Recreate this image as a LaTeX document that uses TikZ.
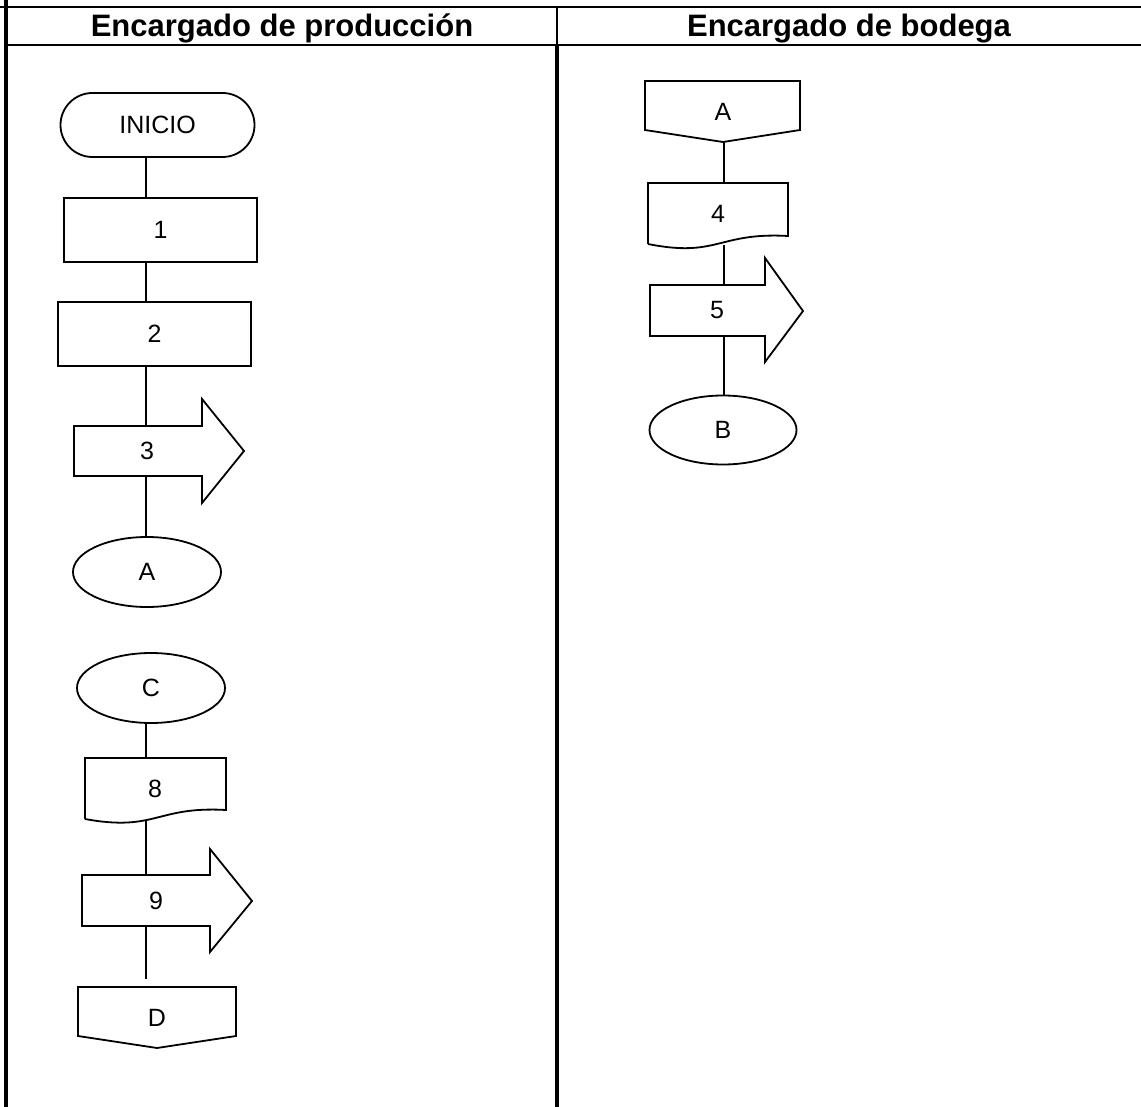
\documentclass[tikz,border=0pt]{standalone}
\usepackage{fontspec}
\setmainfont{Liberation Sans}
\usetikzlibrary{shapes.geometric,shapes.misc}
\tikzset{
  lbl/.style={font=\fontsize{12.5}{15}\selectfont},
  head/.style={font=\bfseries\fontsize{15.5}{18}\selectfont, anchor=base},
  shp/.style={line width=0.9pt},
  proc/.style={shp, draw, lbl, rectangle, minimum width=96.5pt, minimum height=32pt, inner sep=0pt},
  conn/.style={shp, draw, lbl, ellipse, minimum width=74pt, minimum height=35pt, inner sep=0pt},
  txt/.style={lbl, inner sep=0pt},
}
\begin{document}
\begin{tikzpicture}[x=0.5pt,y=-0.5pt]
\useasboundingbox (0,0) rectangle (1141,1107);
% table
\draw[line width=1pt] (0,7) -- (1141,7);
\draw[line width=1pt] (6,45) -- (1141,45);
\draw[line width=2pt] (5.5,0) -- (5.5,1107);
\draw[line width=1pt] (557,7) -- (557,45);
\draw[line width=2pt] (557,45) -- (557,1107);
\node[head] (hprod) at (282,37) {Encargado de producción};
\node[head] (hbod) at (849,37) {Encargado de bodega};
\coordinate (sl) at (146,0);   % left flow line
\coordinate (sr) at (724,0);   % right flow line

% outlines drawn first
\begin{scope}[shp]
\draw (74,426) -- (202,426) -- (202,399) -- (244,451) -- (202,503) -- (202,476) -- (74,476) -- cycle;
\draw (82,875) -- (210,875) -- (210,849) -- (252,901) -- (210,952) -- (210,926) -- (82,926) -- cycle;
\draw (650,285) -- (765,285) -- (765,258) -- (803,311) -- (765,362) -- (765,336) -- (650,336) -- cycle;
\draw (85,819) -- (85,758) -- (226,758) -- (226,810) .. controls (156,806) and (156,832) .. (85,819);
\draw (648,244) -- (648,183) -- (788,183) -- (788,236) .. controls (718,232) and (718,258) .. (648,244);
\draw (645,81) -- (800,81) -- (800,130) -- (723,142) -- (645,130) -- cycle;
\draw (78,987) -- (236,987) -- (236,1036) -- (157,1048) -- (78,1036) -- cycle;
\end{scope}

% left lane
\node[shp, draw, lbl, rounded rectangle, minimum width=97pt, minimum height=32pt, inner sep=0pt] (ini) at (157.5,125) {INICIO};
\node[proc] (p1) at (160.5,230) {1};
\node[proc] (p2) at (154.5,334) {2};
\node[txt, minimum height=25pt] (p3) at (147,451) {3};
\node[conn] (ca) at (147,572) {A};
\node[conn] (cc) at (151,688) {C};
\node[txt, minimum height=31pt] (p8) at (155,789) {8};
\node[txt, minimum height=25.5pt] (p9) at (156,900.5) {9};
\node[txt, minimum height=30.5pt] (cd) at (157,1017.5) {D};

% right lane
\node[txt, minimum height=30.5pt] (ra) at (723,111.5) {A};
\node[txt, minimum height=31pt] (p4) at (718,214) {4};
\node[txt, minimum height=25.5pt] (p5) at (717,310.5) {5};
\node[conn, minimum width=73.5pt, minimum height=34.5pt] (cb) at (723,430) {B};

\begin{scope}[shp]
\draw (ini.south -| sl) -- (p1.north -| sl);
\draw (p1.south -| sl) -- (p2.north -| sl);
\draw (p2.south -| sl) -- (p3.north -| sl);
\draw (p3.south -| sl) -- (ca.north -| sl);
\draw (cc.south -| sl) -- (p8.north -| sl);
\draw (p8.south -| sl) -- (p9.north -| sl);
\draw[shorten >=4pt] (p9.south -| sl) -- (cd.north -| sl);
\draw (ra.south -| sr) -- (p4.north -| sr);
\draw (p4.south -| sr) -- (p5.north -| sr);
\draw (p5.south -| sr) -- (cb.north -| sr);
\end{scope}
\end{tikzpicture}
\end{document}
